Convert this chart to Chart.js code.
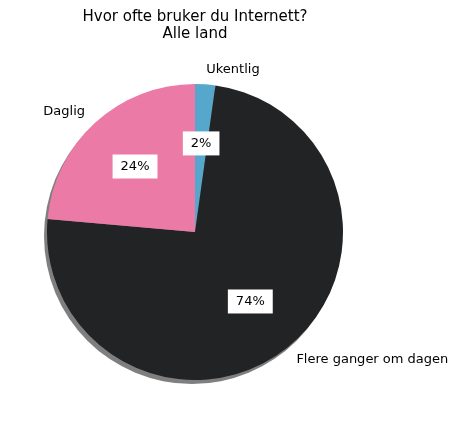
<!DOCTYPE html>
<html>
<head>
<meta charset="utf-8">
<script src="https://cdn.jsdelivr.net/npm/chart.js@4"></script>
<style>
  body { margin: 0; background: #fff; }
  #wrap { width: 470px; height: 427px; }
</style>
</head>
<body>
<div id="wrap"><canvas id="pie"></canvas></div>
<script>
const categories = ['Ukentlig', 'Flere ganger om dagen', 'Daglig'];
const shares = [2.2, 74.2, 23.6];
const colors = ['#55a8cb', '#222325', '#ec7aa6'];
const titleLines = ['Hvor ofte bruker du Internett?', 'Alle land'];

const FONT = '13px "DejaVu Sans"';

// gray drop shadow behind the pie, like matplotlib's shadow=True
const shadowPlugin = {
  id: 'shadow',
  beforeDatasetsDraw(chart) {
    const arc = chart.getDatasetMeta(0).data[0];
    if (!arc) return;
    const ctx = chart.ctx;
    ctx.save();
    ctx.fillStyle = 'rgba(0,0,0,0.5)';
    ctx.beginPath();
    ctx.arc(arc.x - 3, arc.y + 4, arc.outerRadius, 0, Math.PI * 2);
    ctx.fill();
    ctx.restore();
  }
};

const labelPlugin = {
  id: 'labels',
  afterDraw(chart) {
    const ctx = chart.ctx;
    ctx.save();
    ctx.font = FONT;
    ctx.fillStyle = '#000';
    const meta = chart.getDatasetMeta(0);
    const cx = meta.data[0].x;
    ctx.textAlign = 'center';
    ctx.textBaseline = 'middle';
    ctx.font = '15px "DejaVu Sans"';
    titleLines.forEach((t, i) => ctx.fillText(t, cx, 17 + i * 17));
    ctx.font = FONT;
    meta.data.forEach((arc, i) => {
      const mid = (arc.startAngle + arc.endAngle) / 2;
      const r = arc.outerRadius;
      const lx = arc.x + Math.cos(mid) * r * 1.1;
      const ly = arc.y + Math.sin(mid) * r * 1.1;
      ctx.textAlign = Math.cos(mid) >= 0 ? 'left' : 'right';
      ctx.fillStyle = '#000';
      ctx.fillText(categories[i], lx, ly);
      const px = arc.x + Math.cos(mid) * r * 0.6;
      const py = arc.y + Math.sin(mid) * r * 0.6;
      const txt = Math.round(shares[i]) + '%';
      const w = ctx.measureText(txt).width + 16;
      ctx.fillStyle = '#fff';
      ctx.fillRect(px - w / 2, py - 12, w, 24);
      ctx.fillStyle = '#000';
      ctx.textAlign = 'center';
      ctx.fillText(txt, px, py);
    });
    ctx.restore();
  }
};

new Chart(document.getElementById('pie'), {
  type: 'pie',
  data: {
    labels: categories,
    datasets: [{ data: shares, backgroundColor: colors, borderWidth: 0 }]
  },
  options: {
    responsive: true,
    maintainAspectRatio: false,
    animation: false,
    layout: { padding: { left: 47, right: 127, top: 84, bottom: 47 } },
    plugins: { legend: { display: false }, tooltip: { enabled: false } }
  },
  plugins: [shadowPlugin, labelPlugin]
});
</script>
</body>
</html>
